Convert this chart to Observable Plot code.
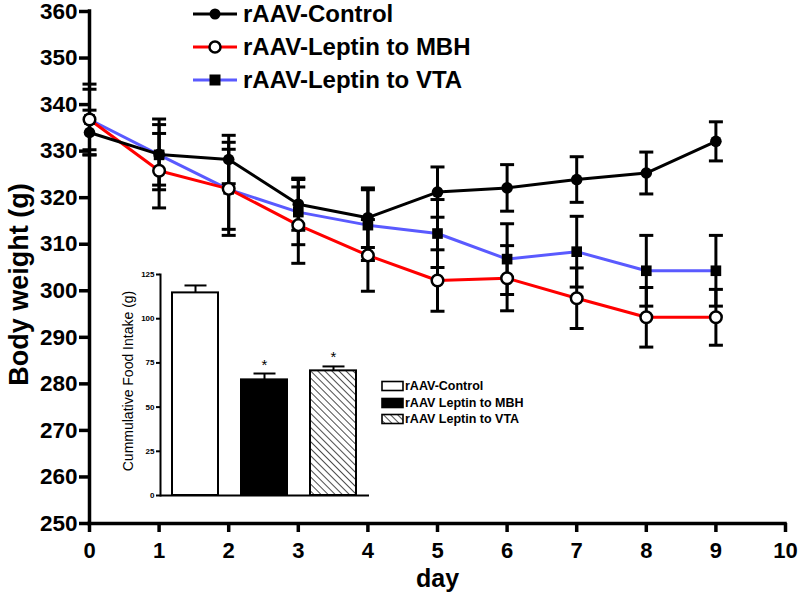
<!DOCTYPE html>
<html>
<head>
<meta charset="utf-8">
<script src="https://cdn.jsdelivr.net/npm/d3@7"></script>
<script src="https://cdn.jsdelivr.net/npm/@observablehq/plot@0.6"></script>
<style>
  html, body { margin: 0; padding: 0; background: white; }
  #wrap { position: relative; width: 800px; height: 597px; font-family: "Liberation Sans", Arial, sans-serif; }
  #inset { position: absolute; left: 100px; top: 260px; }
  .leg { position: absolute; display: flex; align-items: center; white-space: nowrap; color: black; font-weight: bold; }
</style>
</head>
<body>
<div id="wrap"></div>
<script>
// ---------- data ----------
const days = [0, 1, 2, 3, 4, 5, 6, 7, 8, 9];
const seriesNames = ["rAAV-Control", "rAAV-Leptin to MBH", "rAAV-Leptin to VTA"];
const controlWeight = [334.0, 329.3, 328.2, 318.6, 315.7, 321.2, 322.1, 323.9, 325.3, 332.1];
const controlSem    = [4.8, 7.6, 5.2, 5.6, 6.4, 5.4, 5.0, 4.9, 4.5, 4.2];
const mbhWeight     = [336.8, 325.8, 321.9, 314.1, 307.6, 302.2, 302.7, 298.4, 294.3, 294.3];
const mbhSem        = [7.6, 8.0, 10.0, 8.2, 7.7, 6.6, 7.0, 6.5, 6.4, 6.0];
const vtaWeight     = [336.8, 329.2, 321.8, 316.9, 314.1, 312.3, 306.8, 308.4, 304.3, 304.3];
const vtaSem        = [6.5, 6.5, 8.6, 7.0, 7.6, 7.3, 7.6, 7.6, 7.6, 7.6];
const xTicks = [0, 1, 2, 3, 4, 5, 6, 7, 8, 9, 10];
const yTicks = [250, 260, 270, 280, 290, 300, 310, 320, 330, 340, 350, 360];

const insetGroups = ["rAAV-Control", "rAAV Leptin to MBH", "rAAV Leptin to VTA"];
const insetIntake = [114.6, 65.4, 70.5];
const insetSem    = [4.2, 3.6, 2.5];
const insetSig    = ["", "*", "*"];
const insetTicks  = [0, 25, 50, 75, 100, 125];

// ---------- build ----------
const FONT = '"Liberation Sans", Arial, sans-serif';
const colors = ["black", "#ff0000", "#5a5aff"];
const series = [
  {name: seriesNames[0], w: controlWeight, sem: controlSem, color: colors[0]},
  {name: seriesNames[1], w: mbhWeight, sem: mbhSem, color: colors[1]},
  {name: seriesNames[2], w: vtaWeight, sem: vtaSem, color: colors[2]}
];
const rowsOf = s => days.map((d, i) => ({group: s.name, day: d, w: s.w[i], sem: s.sem[i]}));
const rC = rowsOf(series[0]), rM = rowsOf(series[1]), rV = rowsOf(series[2]);
const all = [...rC, ...rM, ...rV];

// horizontal cap symbol: half-width = r
const cap = { draw(ctx, size) { const r = Math.sqrt(size / Math.PI); ctx.moveTo(-r, 0); ctx.lineTo(r, 0); } };

const main = Plot.plot({
  width: 800, height: 597,
  marginLeft: 89, marginRight: 15, marginTop: 11, marginBottom: 74,
  style: {fontFamily: FONT, color: "black", background: "white"},
  x: {domain: [0, 10]},
  y: {domain: [250, 360]},
  marks: [
    Plot.axisY({ticks: yTicks, tickSize: 10, tickPadding: 2, fontSize: 22.5, fontWeight: "bold", strokeWidth: 3.5, label: null}),
    Plot.axisX({ticks: xTicks, tickSize: 9, tickPadding: 10, fontSize: 22, fontWeight: "bold", strokeWidth: 3.5, label: null}),
    Plot.ruleX([0], {strokeWidth: 3.5, strokeLinecap: "square"}),
    Plot.ruleY([250], {strokeWidth: 3.5, strokeLinecap: "square"}),
    Plot.line(rV, {x: "day", y: "w", stroke: colors[2], strokeWidth: 3}),
    Plot.line(rM, {x: "day", y: "w", stroke: colors[1], strokeWidth: 3}),
    Plot.line(rC, {x: "day", y: "w", stroke: colors[0], strokeWidth: 3}),
    Plot.ruleX(all, {x: "day", y1: d => d.w - d.sem, y2: d => d.w + d.sem, stroke: "black", strokeWidth: 3}),
    Plot.dot(all, {x: "day", y: d => d.w + d.sem, symbol: cap, r: 7, fill: "none", stroke: "black", strokeWidth: 3}),
    Plot.dot(all, {x: "day", y: d => d.w - d.sem, symbol: cap, r: 7, fill: "none", stroke: "black", strokeWidth: 3}),
    Plot.dot(rV, {x: "day", y: "w", symbol: "square", r: 6, fill: "black", stroke: "none"}),
    Plot.dot(rM, {x: "day", y: "w", symbol: "circle", r: 5.8, fill: "white", stroke: "black", strokeWidth: 2.5}),
    Plot.dot(rC, {x: "day", y: "w", symbol: "circle", r: 5.8, fill: "black", stroke: "none"}),
    Plot.text(["Body weight (g)"], {text: d => d, frameAnchor: "left", textAnchor: "middle", dx: -70, dy: 17, rotate: -90, fontSize: 27, fontWeight: "bold", fill: "black"}),
    Plot.text(["day"], {text: d => d, frameAnchor: "bottom", textAnchor: "middle", dy: 63, fontSize: 25, fontWeight: "bold", fill: "black"})
  ]
});

const inset = insetGroups.map((g, i) => ({group: g, intake: insetIntake[i], sem: insetSem[i], sig: insetSig[i], fill: ["white", "black", "url(#hatch)"][i]}));

const insetPlot = Plot.plot({
  width: 280, height: 245,
  marginLeft: 60, marginRight: 11, marginTop: 14, marginBottom: 10,
  style: {fontFamily: FONT, color: "black", background: "transparent", overflow: "visible"},
  x: {domain: insetGroups, paddingInner: 0.333, paddingOuter: 0.18, axis: null},
  y: {domain: [0, 125]},
  color: {type: "identity"},
  marks: [
    Plot.barY(inset, {x: "group", y: "intake", fill: "fill", stroke: "black", strokeWidth: 2}),
    Plot.ruleX(inset, {x: "group", y1: "intake", y2: d => d.intake + d.sem, stroke: "black", strokeWidth: 2}),
    Plot.dot(inset, {x: "group", y: d => d.intake + d.sem, symbol: cap, r: 11, fill: "none", stroke: "black", strokeWidth: 2}),
    Plot.text(inset, {x: "group", y: d => d.intake + d.sem, text: "sig", dy: -4, lineAnchor: "bottom", fontSize: 15, fill: "black"}),
    Plot.axisY({ticks: insetTicks, tickSize: 4, tickPadding: 2, fontSize: 8, fontWeight: "bold", strokeWidth: 2, label: null}),
    Plot.frame({anchor: "left", strokeWidth: 2}),
    Plot.ruleY([0], {strokeWidth: 2}),
    Plot.text(["Cummulative Food Intake (g)"], {text: d => d, frameAnchor: "left", textAnchor: "middle", dx: -32, dy: -4, rotate: -90, fontSize: 14, fill: "black"})
  ]
});

// hatch pattern
const ns = "http://www.w3.org/2000/svg";
const defs = document.createElementNS(ns, "defs");
defs.innerHTML = '<pattern id="hatch" patternUnits="userSpaceOnUse" width="5" height="5" patternTransform="rotate(-45)"><rect width="5" height="5" fill="white"/><line x1="0" y1="0" x2="0" y2="5" stroke="black" stroke-width="1.4"/></pattern>';
insetPlot.insertBefore(defs, insetPlot.firstChild);

const wrap = document.getElementById("wrap");
wrap.appendChild(main);
insetPlot.id = "inset";
wrap.appendChild(insetPlot);

// main legend
const legCenters = [14, 47, 80];
series.forEach((s, i) => {
  const div = document.createElement("div");
  div.className = "leg";
  div.style.left = "193px";
  div.style.top = (legCenters[i] - 15) + "px";
  div.style.height = "30px";
  div.style.fontSize = "24px";
  let marker;
  if (i === 0) marker = '<circle cx="22" cy="15" r="5.5" fill="black"/>';
  else if (i === 1) marker = '<circle cx="22" cy="15" r="5.5" fill="white" stroke="black" stroke-width="2.5"/>';
  else marker = '<rect x="16.5" y="9.5" width="11" height="11" fill="black"/>';
  div.innerHTML = '<svg width="44" height="30" style="display:block"><line x1="0" y1="15" x2="44" y2="15" stroke="' + s.color + '" stroke-width="3"/>' + marker + '</svg><span style="margin-left:6px">' + s.name + '</span>';
  wrap.appendChild(div);
});

// inset legend
const insetLegCenters = [386, 402.5, 419];
insetGroups.forEach((g, i) => {
  const div = document.createElement("div");
  div.className = "leg";
  div.style.left = "381px";
  div.style.top = (insetLegCenters[i] - 8) + "px";
  div.style.height = "16px";
  div.style.fontSize = "12.5px";
  const fill = inset[i].fill;
  div.innerHTML = '<svg width="23" height="12" style="display:block"><rect x="1" y="1.5" width="21" height="9" fill="' + fill + '" stroke="black" stroke-width="1.6"/></svg><span style="margin-left:1px">' + g + '</span>';
  wrap.appendChild(div);
});
</script>
</body>
</html>
